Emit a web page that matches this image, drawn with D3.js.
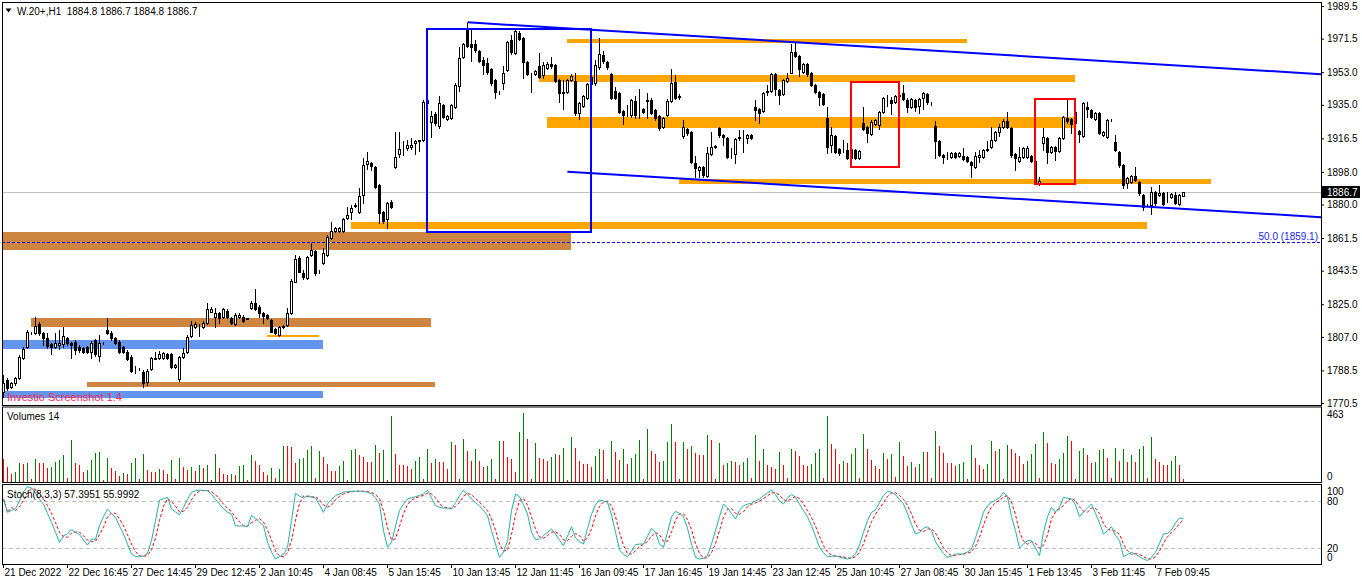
<!DOCTYPE html>
<html><head><meta charset="utf-8">
<script src="https://cdn.jsdelivr.net/npm/d3@7/dist/d3.min.js"></script>
<style>
html,body{margin:0;padding:0;background:#fff;overflow:hidden}
svg{display:block}
text{font-family:"Liberation Sans",Arial,sans-serif;font-size:10px;fill:#000}
</style></head><body>
<svg id="chart" width="1362" height="585"></svg>
<script>
// ---------- DATA ----------
const opens=[
1776.8,1783.2,1779.2,1781.4,1784.1,1795.2,1801.6,1809.0,1809.3,1814.1,
1809.0,1806.2,1802.9,1801.6,1802.5,1802.9,1806.2,1803.4,1804.4,1801.6,
1800.7,1801.2,1798.8,1805.3,1796.5,1803.6,1810.8,1809.3,1806.2,1804.4,
1801.2,1798.8,1796.1,1788.6,1789.1,1787.8,1781.9,1789.1,1795.0,1795.2,
1795.2,1797.6,1797.6,1790.2,1783.6,1796.1,1798.8,1807.5,1812.6,1813.6,
1812.6,1814.8,1820.9,1818.2,1820.0,1818.2,1821.5,1817.2,1814.1,1817.8,
1818.2,1817.0,1822.8,1825.9,1823.7,1820.0,1819.1,1816.3,1811.2,1808.0,
1812.4,1813.5,1820.0,1837.4,1850.5,1842.4,1839.5,1852.2,1854.5,1843.3,
1847.6,1852.2,1861.7,1865.6,1865.4,1865.6,1872.7,1875.7,1879.3,1876.1,
1885.2,1902.5,1902.9,1900.7,1890.8,1875.7,1872.0,1881.6,1900.9,1907.7,
1910.0,1911.0,1911.5,1913.7,1915.2,1915.6,1937.5,1925.7,1929.9,1923.5,
1934.9,1927.2,1927.5,1933.6,1945.6,1961.6,1976.3,1968.7,1968.4,1964.7,
1959.7,1957.9,1954.8,1948.7,1942.0,1946.9,1954.2,1970.8,1963.4,1974.4,
1971.7,1958.4,1952.0,1952.0,1956.6,1951.4,1955.5,1957.3,1957.0,1948.7,
1941.7,1941.9,1948.7,1948.1,1930.7,1934.3,1938.6,1946.5,1946.8,1955.7,
1962.5,1958.8,1952.0,1942.8,1941.7,1931.6,1931.2,1929.4,1937.1,1932.1,
1932.5,1937.6,1937.6,1932.1,1928.8,1922.6,1929.4,1937.3,1947.8,1939.5,
1917.8,1921.5,1920.2,1903.1,1899.0,1900.5,1895.7,1907.9,1911.8,1922.0,
1918.3,1916.5,1908.0,1907.9,1916.5,1917.6,1916.5,1918.5,1934.0,1932.5,
1931.8,1942.2,1942.8,1952.0,1943.2,1940.9,1948.3,1952.7,1964.3,1961.9,
1953.3,1957.5,1952.4,1945.9,1942.2,1941.0,1927.5,1912.8,1917.8,1910.4,
1910.1,1910.1,1905.5,1910.1,1905.5,1925.1,1922.9,1918.9,1924.4,1923.9,
1931.2,1937.3,1937.7,1936.7,1939.9,1941.3,1937.7,1933.6,1937.7,1934.3,
1938.6,1941.0,1936.2,1923.3,1915.2,1907.3,1906.0,1906.0,1908.6,1906.8,
1906.8,1906.0,1903.6,1900.9,1906.0,1906.4,1910.2,1911.5,1915.6,1920.2,
1922.6,1926.2,1922.0,1907.9,1904.2,1906.4,1906.0,1906.8,1904.2,1891.7,
1914.1,1916.5,1909.1,1911.5,1909.7,1916.5,1927.5,1927.0,1925.0,1920.7,
1917.8,1934.0,1932.1,1927.0,1930.7,1918.3,1917.4,1926.6,1914.7,1909.1,
1901.8,1891.7,1892.6,1895.7,1892.6,1885.2,1879.7,1879.7,1887.1,1885.2,
1886.5,1884.3,1884.0,1885.2,1880.3,1884.8];
const highs=[
1786.0,1784.1,1782.3,1785.0,1797.0,1801.6,1810.5,1809.5,1817.8,1815.0,
1809.5,1809.3,1803.5,1809.0,1810.8,1812.6,1807.0,1804.0,1805.0,1802.5,
1801.5,1802.0,1804.5,1806.0,1808.0,1804.2,1817.2,1810.0,1807.0,1805.0,
1801.8,1799.5,1797.0,1790.9,1789.6,1788.5,1789.0,1796.0,1798.8,1799.2,
1798.8,1798.3,1798.3,1792.0,1796.7,1800.7,1807.8,1816.0,1815.0,1814.1,
1815.5,1825.9,1823.3,1822.8,1820.5,1823.0,1822.2,1818.0,1820.0,1820.0,
1819.0,1817.6,1826.5,1833.2,1824.5,1820.5,1819.6,1817.0,1811.8,1813.2,
1813.3,1823.0,1838.8,1852.2,1851.5,1843.8,1851.6,1858.6,1855.0,1844.0,
1855.8,1863.0,1870.2,1867.4,1867.6,1872.6,1878.8,1879.7,1880.7,1888.9,
1905.8,1909.1,1903.5,1901.5,1891.3,1876.5,1881.5,1882.3,1919.8,1919.8,
1915.0,1915.4,1916.5,1915.6,1915.8,1937.5,1938.2,1931.6,1930.8,1940.0,
1935.5,1929.5,1935.5,1946.8,1966.9,1969.1,1979.9,1976.3,1970.8,1965.5,
1961.6,1960.6,1955.5,1949.3,1942.8,1956.6,1970.2,1973.5,1976.3,1975.7,
1972.3,1959.0,1952.8,1954.2,1963.4,1958.8,1958.8,1961.6,1957.6,1949.3,
1948.7,1949.2,1951.8,1952.4,1936.5,1940.5,1947.0,1952.0,1959.7,1971.7,
1964.9,1959.4,1952.5,1945.0,1942.2,1932.1,1934.9,1938.2,1939.9,1943.5,
1933.0,1941.3,1938.5,1932.8,1929.4,1928.1,1938.0,1954.6,1951.4,1941.0,
1926.6,1922.0,1920.8,1906.8,1901.5,1901.0,1911.9,1920.2,1912.8,1922.9,
1918.8,1917.0,1911.0,1916.6,1921.1,1921.1,1919.0,1919.0,1937.6,1933.0,
1942.0,1945.9,1952.7,1952.7,1943.8,1949.3,1952.4,1968.5,1968.9,1962.5,
1958.0,1958.0,1953.0,1946.5,1942.8,1941.5,1933.6,1922.6,1918.3,1911.0,
1915.6,1913.7,1911.5,1910.6,1910.3,1933.6,1923.5,1926.4,1927.2,1931.8,
1939.2,1940.4,1939.5,1940.5,1942.0,1945.9,1938.6,1938.6,1938.3,1938.6,
1942.2,1941.5,1936.6,1926.2,1915.8,1907.9,1909.1,1909.2,1909.2,1909.2,
1911.0,1906.6,1904.2,1909.1,1910.1,1910.7,1915.2,1922.9,1920.8,1924.4,
1927.0,1931.2,1922.6,1908.5,1911.5,1911.6,1912.3,1907.4,1905.0,1895.0,
1922.0,1917.0,1912.0,1912.0,1917.0,1929.0,1937.7,1927.5,1932.0,1921.3,
1936.4,1936.7,1932.7,1931.3,1931.3,1920.8,1927.0,1927.4,1918.3,1909.7,
1902.4,1895.0,1896.3,1900.9,1893.2,1885.8,1880.5,1889.8,1887.7,1890.8,
1887.0,1887.1,1886.4,1887.1,1885.8,1886.7];
const lows=[
1774.0,1777.7,1778.6,1780.5,1783.5,1794.5,1801.0,1808.5,1808.5,1808.0,
1802.5,1800.7,1797.6,1800.7,1800.1,1801.6,1802.5,1795.2,1797.6,1798.5,
1797.9,1798.0,1795.2,1796.5,1793.9,1803.2,1808.5,1805.5,1803.0,1798.0,
1798.0,1794.0,1787.5,1786.9,1788.5,1779.2,1780.5,1788.5,1794.5,1794.8,
1794.8,1794.8,1789.6,1789.8,1782.8,1795.5,1798.0,1807.0,1812.0,1807.5,
1812.0,1814.2,1820.5,1812.6,1814.5,1817.5,1817.5,1813.9,1813.5,1817.2,
1815.4,1816.6,1822.2,1821.6,1817.8,1814.8,1816.6,1809.4,1808.3,1807.5,
1812.0,1813.0,1819.5,1837.0,1842.5,1838.7,1838.9,1851.8,1841.1,1842.1,
1847.0,1851.5,1861.2,1865.0,1865.0,1865.0,1872.0,1872.0,1878.8,1875.5,
1880.7,1899.6,1899.0,1889.0,1869.6,1869.6,1866.9,1878.0,1899.9,1906.4,
1907.3,1910.1,1910.6,1907.7,1909.5,1915.0,1935.0,1917.4,1924.0,1922.4,
1927.9,1926.6,1927.0,1933.0,1942.6,1960.6,1967.0,1959.3,1964.0,1958.7,
1952.0,1952.0,1945.9,1938.6,1940.8,1943.7,1953.5,1962.8,1962.8,1970.7,
1949.6,1951.4,1942.2,1951.4,1950.0,1949.6,1955.0,1955.1,1947.5,1936.7,
1932.7,1941.3,1948.0,1929.4,1927.0,1933.7,1938.0,1944.0,1946.0,1954.6,
1957.9,1955.0,1938.0,1938.0,1930.5,1924.4,1928.8,1928.1,1927.5,1927.5,
1930.5,1927.5,1930.0,1926.4,1921.3,1922.0,1928.8,1936.7,1938.0,1938.0,
1916.5,1918.5,1903.0,1895.4,1895.4,1895.4,1895.0,1907.3,1911.0,1917.5,
1912.8,1905.8,1905.5,1902.7,1915.6,1909.2,1914.1,1916.0,1926.6,1925.1,
1931.2,1940.4,1942.2,1940.4,1935.4,1940.3,1947.7,1952.4,1961.5,1950.9,
1952.7,1950.9,1945.3,1941.6,1934.9,1934.9,1908.2,1909.2,1908.6,1907.3,
1909.0,1905.0,1900.5,1905.0,1905.0,1921.0,1914.7,1918.3,1923.8,1921.5,
1930.6,1934.3,1929.9,1936.0,1938.0,1937.6,1931.2,1933.0,1931.8,1930.6,
1932.5,1935.4,1934.9,1905.5,1906.5,1902.7,1904.9,1905.5,1905.8,1906.2,
1904.3,1903.6,1895.4,1900.3,1903.6,1905.8,1909.7,1911.0,1915.0,1917.8,
1922.0,1922.0,1906.4,1899.0,1903.6,1905.8,1905.5,1903.6,1891.7,1891.0,
1910.1,1902.7,1908.2,1904.6,1909.0,1916.0,1924.8,1919.3,1924.0,1914.7,
1917.2,1928.5,1927.9,1926.4,1919.0,1917.7,1916.8,1926.0,1909.5,1900.5,
1888.9,1888.9,1892.0,1892.9,1885.3,1877.0,1879.0,1874.8,1880.0,1884.6,
1879.7,1881.6,1883.4,1880.4,1879.7,1884.8];
const closes=[
1781.4,1778.6,1781.4,1784.1,1796.1,1800.1,1809.9,1809.2,1813.0,1809.0,
1806.2,1802.0,1801.2,1803.4,1803.8,1807.5,1803.4,1802.5,1799.8,1799.8,
1798.8,1798.8,1803.8,1797.4,1803.8,1803.8,1809.0,1806.2,1803.8,1798.8,
1798.8,1794.6,1788.4,1788.8,1789.0,1781.4,1788.2,1795.2,1795.3,1797.6,
1797.9,1795.2,1790.2,1791.5,1796.1,1797.9,1807.1,1813.6,1814.1,1813.8,
1814.8,1822.2,1822.2,1820.0,1817.2,1822.2,1818.2,1814.5,1819.1,1819.1,
1816.0,1817.2,1825.9,1822.2,1820.0,1818.7,1817.2,1809.9,1809.0,1812.6,
1812.8,1820.2,1838.0,1849.9,1842.9,1839.9,1851.0,1854.9,1842.2,1843.5,
1853.4,1862.2,1865.4,1866.9,1866.9,1872.0,1874.2,1877.9,1879.5,1884.7,
1901.8,1904.0,1901.4,1889.8,1875.1,1870.9,1880.6,1878.8,1906.4,1910.4,
1910.2,1912.8,1912.8,1915.0,1915.4,1936.4,1935.8,1928.8,1924.8,1935.8,
1928.5,1928.8,1934.9,1945.9,1960.6,1968.4,1967.6,1967.1,1965.2,1959.3,
1957.0,1953.3,1946.9,1942.2,1942.2,1952.4,1969.5,1964.3,1975.7,1971.3,
1958.4,1952.0,1952.2,1953.6,1950.5,1957.0,1957.3,1956.4,1948.1,1941.3,
1941.9,1948.7,1950.9,1930.3,1935.8,1939.9,1946.5,1950.5,1956.9,1963.0,
1959.4,1955.7,1938.6,1938.6,1931.2,1929.4,1931.0,1937.6,1929.4,1932.3,
1931.2,1937.3,1930.7,1927.5,1922.0,1927.5,1937.3,1947.2,1938.6,1939.7,
1922.6,1919.6,1903.6,1900.0,1900.9,1896.3,1908.6,1911.5,1912.0,1918.3,
1917.4,1906.4,1907.8,1916.0,1917.4,1917.8,1918.5,1916.5,1932.1,1930.7,
1941.3,1942.4,1952.0,1943.5,1940.4,1948.7,1949.6,1964.3,1961.9,1954.6,
1957.5,1952.0,1945.9,1942.2,1939.5,1935.4,1911.5,1918.3,1909.2,1908.6,
1910.0,1905.5,1910.4,1905.5,1909.7,1921.5,1919.3,1925.7,1926.6,1931.2,
1938.6,1937.1,1936.2,1939.9,1940.5,1938.0,1934.0,1938.0,1934.0,1938.0,
1941.3,1936.7,1936.0,1915.2,1907.3,1906.0,1906.2,1908.6,1906.4,1908.6,
1904.9,1904.2,1901.8,1906.8,1907.3,1910.1,1910.4,1915.6,1920.2,1922.9,
1926.2,1922.6,1907.3,1905.5,1906.0,1911.0,1911.0,1904.2,1892.6,1892.9,
1917.4,1909.1,1911.5,1909.7,1916.5,1928.5,1926.2,1924.4,1931.0,1918.9,
1935.8,1932.5,1928.5,1930.7,1919.6,1920.2,1926.6,1926.6,1910.1,1901.8,
1890.8,1894.4,1895.7,1893.5,1886.2,1878.8,1879.9,1887.1,1880.6,1886.5,
1880.3,1884.1,1885.8,1881.0,1885.2,1886.7];
const volumes=[
148,96,47,58,125,114,125,13,148,125,125,87,96,132,141,174,20,282,125,107,
58,74,141,192,199,7,154,87,69,36,54,47,125,154,13,181,74,58,58,81,
74,47,141,13,154,96,74,96,69,107,87,107,7,181,87,47,43,47,40,103,
107,7,174,136,107,63,40,87,20,81,237,237,230,121,148,154,208,237,20,204,
163,119,69,69,103,136,7,208,221,177,163,130,130,244,188,208,9,445,181,107,
107,103,81,136,163,13,221,121,148,130,130,81,264,244,13,289,204,136,221,136,
96,103,148,13,275,275,163,148,58,331,463,289,13,260,154,148,136,163,181,174,
226,7,298,226,136,119,119,96,170,221,208,13,275,197,141,221,114,154,181,282,
13,356,204,181,128,134,268,389,264,13,268,221,235,188,174,174,315,282,13,262,
107,121,134,128,107,128,154,20,315,134,221,107,94,81,195,107,20,215,201,168,
107,101,114,188,215,20,443,255,215,114,134,121,181,228,20,322,221,141,101,81,
188,148,181,27,268,168,101,128,94,114,195,195,20,342,235,188,121,121,101,114,
128,13,248,154,107,81,114,275,201,215,13,248,215,188,168,114,134,181,255,20,
336,262,121,114,148,188,309,275,13,201,228,174,121,128,208,215,154,20,228,134,
215,128,174,128,215,235,20,302,148,128,107,107,134,168,107,13];
const stochK=[
82.6,65.5,68,70,80,92,98.3,96.6,90,82,76,64,52.8,40,27.2,35.7,38,43.4,40,37,
30,23.8,31.5,31,48.5,60,69.8,64,59.1,48,37.9,25,12.4,9,8.9,10,13.2,29.4,55,81.3,
83,84.7,69.8,66,62.6,71.9,82,91.1,93,94,93.2,93,88.9,82,76.2,70,66,63.4,48.5,48,
48.5,47.2,61.3,57.9,53,48.5,27.2,15,5.9,9,11.5,20.9,55,89.8,86,83.8,86.8,85,83.8,75,
65.5,76.2,82,86.8,89,91.1,92,92.3,92.5,92.5,92.3,91,88.9,84,76.2,42.1,20.9,27.2,48,67.7,
76,82.6,84,85.5,87,88.9,94,84,74,72,71,71,69.8,78,86.8,94,88,82.6,78,74,
68,61.3,42.1,25,8.1,15,29.4,67.7,88.9,85.5,75,63.4,40,30.6,31.5,36,40,44.3,37.9,30,
23,35,47.2,32.8,28,25.1,45,63,75,81.3,80,78.3,62,40,18,12,8.9,16,24.3,25,
25.1,35,45.1,40,25,20.9,40,60,66.8,64,60,45,25,8.1,6,7,10.2,25,42.1,60,
76.2,71,64,57,68,74,76,77,80,82.6,87,90,94,88,80,76.2,84,88.1,85,76,
67.7,60,48.5,35,21,14,8.9,9.5,10.2,8.5,7.2,5.9,8,12.4,24,40,55,65.5,68.5,78,
87,92.3,91.1,88,82,76.2,64,50,37.9,40,45,47.2,42.1,28,20,13,8.1,10,12.4,12.4,
12.4,15,18.7,33,48.5,66,74,78.3,81,84,91.1,85,60,42.1,20,25,29.4,29.4,20,10.2,
40,60,71.9,66,72,84.7,83.5,82.6,75,60,66,71,76.2,64,52,38,42,47.2,36,29.4,
9,12,14.5,12,9,6,4,8,14.5,26,37.9,38.7,43,52,58.5,57.3951];
const priceTicks=[1989.5,1971.5,1953.0,1935.0,1916.5,1898.0,1880.0,1861.5,1843.5,1825.0,1807.0,1788.5,1770.5];
const timeBars=[0,16,32,48,64,80,96,112,128,144,160,176,192,208,224,240,256,272,288];
const timeLabels=["21 Dec 2022","22 Dec 16:45","27 Dec 14:45","29 Dec 12:45","2 Jan 10:45","4 Jan 08:45","5 Jan 15:45","10 Jan 13:45","12 Jan 11:45","16 Jan 09:45","17 Jan 16:45","19 Jan 14:45","23 Jan 12:45","25 Jan 10:45","27 Jan 08:45","30 Jan 15:45","1 Feb 13:45","3 Feb 11:45","7 Feb 09:45"];
// chart objects: [fromBar, toBar, topPrice, bottomPrice]
const orangeZones=[[141,241,1971.1,1969.3],[134,268,1951.4,1947.7],[136,268,1928.1,1922.4],[169,302,1894.1,1891.1],[87,286,1870.2,1866.3],[66,79,1808.0,1807.1]];
const brownZones=[[-2,142,1864.8,1855.1],[7,107,1817.6,1812.6],[21,108,1782.3,1779.3]];
const blueZones=[[-2,80,1805.3,1800.3],[-2,80,1777.3,1773.1]];
const blueBoxes=[[105.9,146.9,1977.0,1865.0]];
const redBoxes=[[212,224,1947.7,1900.6],[258,268,1938.2,1891.5]];
// trend lines: [bar1, price1, bar2, price2]
const trendLines=[[116.1,1980.5,329.5,1951.9],[141.1,1898.1,329.5,1873.0]];
const fiboLevel=1859.1, lastPrice=1886.7, volMax=463;

// ---------- DRAWING ----------
const svg=d3.select('#chart');
const X0=2,X1=1321,MT=2,MB=405,VT=407,VB=481,ST=484,SB=564;
const n=closes.length;
const x=d3.scaleLinear().domain([0,295]).range([3,1183]);
const y=d3.scaleLinear().domain([1770.5,1989.5]).range([403,6]);
const yv=d3.scaleLinear().domain([0,volMax]).range([VB,413]);
const ys=d3.scaleLinear().domain([0,100]).range([563.7,485.3]);
const pr=v=>Math.round(v)+0.5;

const defs=svg.append('defs');
function clip(id,y0,y1){defs.append('clipPath').attr('id',id).append('rect').attr('x',X0+1).attr('y',y0+1).attr('width',X1-X0-1).attr('height',y1-y0-1);}
clip('cm',MT,MB);clip('cv',VT,VB+1);clip('cs',ST,SB);

const gm=svg.append('g').attr('clip-path','url(#cm)');
function zones(arr,color){
  gm.selectAll(null).data(arr).join('rect')
    .attr('x',d=>Math.round(x(d[0]))).attr('width',d=>Math.round(x(d[1]))-Math.round(x(d[0])))
    .attr('y',d=>Math.round(y(d[2]))).attr('height',d=>Math.max(2,Math.round(y(d[3]))-Math.round(y(d[2]))))
    .attr('fill',color);
}
zones(brownZones,'#CD853F');
zones(blueZones,'#6495ED');
zones(orangeZones,'#FFA500');

// current price line
gm.append('line').attr('x1',X0).attr('x2',X1).attr('y1',pr(y(lastPrice))).attr('y2',pr(y(lastPrice)))
  .attr('stroke','#C0C0C0').attr('stroke-width',1);
// fibo 50% dotted line
gm.append('line').attr('x1',X0).attr('x2',X1).attr('y1',pr(y(fiboLevel))).attr('y2',pr(y(fiboLevel)))
  .attr('stroke','#0000FF').attr('stroke-width',1).attr('stroke-dasharray','3,2');
gm.append('text').attr('x',1318).attr('y',Math.round(y(fiboLevel))-2).attr('text-anchor','end')
  .style('fill','#2222EE').text('50.0 ('+fiboLevel.toFixed(1)+')');

// candles
const idx=d3.range(n);
const gc=gm.append('g');
gc.selectAll('line.w').data(idx).join('line').attr('class','w')
  .attr('x1',i=>x(i)+0.5).attr('x2',i=>x(i)+0.5)
  .attr('y1',i=>Math.round(y(highs[i]))).attr('y2',i=>Math.round(y(lows[i]))+1)
  .attr('stroke','#000').attr('stroke-width',1);
gc.selectAll('rect.b').data(idx).join('rect').attr('class','b')
  .attr('x',i=>x(i)-0.5).attr('width',2)
  .attr('y',i=>pr(y(Math.max(opens[i],closes[i])))-0)
  .attr('height',i=>Math.max(0,Math.round(y(Math.min(opens[i],closes[i])))-Math.round(y(Math.max(opens[i],closes[i])))))
  .attr('fill',i=>closes[i]>=opens[i]?'#fff':'#000')
  .attr('stroke','#000').attr('stroke-width',1);

// boxes & trend lines
function boxes(arr,color){
  gm.selectAll(null).data(arr).join('rect')
    .attr('x',d=>Math.round(x(d[0]))).attr('width',d=>Math.round(x(d[1]))-Math.round(x(d[0])))
    .attr('y',d=>Math.round(y(d[2]))).attr('height',d=>Math.round(y(d[3]))-Math.round(y(d[2])))
    .attr('fill','none').attr('stroke',color).attr('stroke-width',2);
}
boxes(blueBoxes,'#0000FF');
boxes(redBoxes,'#FF0000');
gm.selectAll(null).data(trendLines).join('line')
  .attr('x1',d=>x(d[0])).attr('y1',d=>y(d[1])).attr('x2',d=>x(d[2])).attr('y2',d=>y(d[3]))
  .attr('stroke','#0000FF').attr('stroke-width',2);

gm.append('text').attr('x',7).attr('y',401).style('font-size','11px').style('fill','#FF2255').text('Investio Screenshot 1.4');

// title
svg.append('path').attr('d','M5.5,8.5 L11.5,8.5 L8.5,12.5 Z').attr('fill','#000');
svg.append('text').attr('x',17).attr('y',14.5).text('W.20+,H1  1884.8 1886.7 1884.8 1886.7').attr('xml:space','preserve');

// price label box
svg.append('rect').attr('x',1322).attr('y',Math.round(y(lastPrice))-6).attr('width',38).attr('height',12).attr('fill','#000');
svg.append('text').attr('x',1327).attr('y',y(lastPrice)).attr('dy','0.35em').style('fill','#fff').text(lastPrice.toFixed(1));

// right price axis
svg.append('g').attr('transform',`translate(${X1},0)`)
  .call(d3.axisRight(y).tickValues(priceTicks).tickSize(3).tickPadding(3).tickFormat(d3.format('.1f')))
  .call(g=>{g.select('.domain').remove();g.attr('font-family',null).attr('font-size',null);g.selectAll('line').attr('stroke','#000');});

// volumes
const gv=svg.append('g').attr('clip-path','url(#cv)');
gv.selectAll('line').data(idx).join('line')
  .attr('x1',i=>x(i)+0.5).attr('x2',i=>x(i)+0.5)
  .attr('y1',VB+1).attr('y2',i=>Math.round(yv(volumes[i])))
  .attr('stroke',i=>(i>0&&volumes[i]>volumes[i-1])?'#008000':'#FF0000').attr('stroke-width',1);
svg.append('text').attr('x',7).attr('y',420).text('Volumes 14');
svg.append('text').attr('x',1327).attr('y',yv(volMax)+1).attr('dy','0.35em').text(String(volMax));
svg.append('text').attr('x',1327).attr('y',yv(0)-5).attr('dy','0.35em').text('0');

// stochastic
const stochD=stochK.map((v,i)=>i<2?v:(stochK[i]+stochK[i-1]+stochK[i-2])/3);
const gs=svg.append('g').attr('clip-path','url(#cs)');
[80,20].forEach(l=>gs.append('line').attr('x1',X0).attr('x2',X1).attr('y1',pr(ys(l))).attr('y2',pr(ys(l)))
  .attr('stroke','#C0C0C0').attr('stroke-dasharray','4,3'));
const ln=d3.line().x((d,i)=>x(i)+0.5).y(d=>ys(d));
gs.append('path').attr('d',ln(stochD)).attr('fill','none').attr('stroke','#FF0000').attr('stroke-width',1).attr('stroke-dasharray','3,2');
gs.append('path').attr('d',ln(stochK)).attr('fill','none').attr('stroke','#20B2AA').attr('stroke-width',1);
svg.append('text').attr('x',7).attr('y',498).text('Stoch(8,3,3) '+stochK[n-1].toFixed(4)+' '+(55.9992).toFixed(4));
svg.append('text').attr('x',1327).attr('y',ys(100)+6).attr('dy','0.35em').text('100');
svg.append('text').attr('x',1327).attr('y',ys(80)+1).attr('dy','0.35em').text('80');
svg.append('text').attr('x',1327).attr('y',ys(20)).attr('dy','0.35em').text('20');
svg.append('text').attr('x',1327).attr('y',ys(0)-6).attr('dy','0.35em').text('0');

// time axis
svg.append('g').attr('transform',`translate(0,${SB})`)
  .call(d3.axisBottom(x).tickValues(timeBars).tickSize(4).tickFormat((d,i)=>timeLabels[i]))
  .call(g=>{g.select('.domain').remove();g.attr('font-family',null).attr('font-size',null);
    g.selectAll('line').attr('stroke','#000');
    g.selectAll('text').attr('text-anchor','start').attr('x',1).attr('y',5);});

// frames
[[MT,MB],[VT-0.5,VB+1],[ST,SB]].forEach(([a,b])=>svg.append('rect').attr('x',X0+0.5).attr('y',a+0.5)
  .attr('width',X1-X0).attr('height',b-a).attr('fill','none').attr('stroke','#000').attr('stroke-width',1));
</script></body></html>
